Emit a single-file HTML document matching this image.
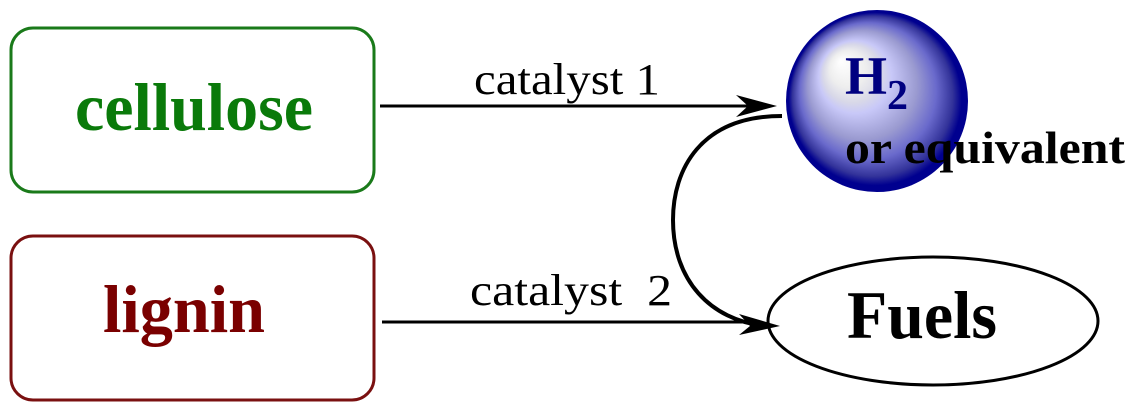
<!DOCTYPE html>
<html><head><style>body{margin:0;background:#fff}</style></head><body>
<svg width="1135" height="414" xmlns="http://www.w3.org/2000/svg">
<defs>
<radialGradient id="g" cx="0.5" cy="0.5" r="0.5" fx="0.3" fy="0.28">
<stop offset="0" stop-color="#fff"/><stop offset="0.2" stop-color="#eeeeee"/><stop offset="0.32" stop-color="#d8d8e8"/><stop offset="0.4" stop-color="#c8c8f8"/><stop offset="0.6" stop-color="#9a9ad0"/><stop offset="0.75" stop-color="#6a6acc"/><stop offset="0.88" stop-color="#33339a"/><stop offset="0.95" stop-color="#00008f"/>
</radialGradient>
</defs>
<rect x="11" y="28" width="363" height="164" rx="22" fill="none" stroke="#1a7a1a" stroke-width="3"/>
<text x="75" y="130" textLength="238" lengthAdjust="spacingAndGlyphs" font-family="Liberation Serif" font-weight="bold" font-size="68" fill="#0a7a0a">cellulose</text>
<rect x="11" y="236" width="363" height="164" rx="22" fill="none" stroke="#7a1010" stroke-width="3"/>
<text x="103" y="332" textLength="162" lengthAdjust="spacingAndGlyphs" font-family="Liberation Serif" font-weight="bold" font-size="68" fill="#7a0000">lignin</text>
<line x1="380" y1="106" x2="760" y2="106" stroke="#000" stroke-width="3"/>
<path d="M777 106 L736 95 L748 106 L736 117Z"/>
<text x="474" y="94" textLength="186" lengthAdjust="spacingAndGlyphs" font-family="Liberation Serif" font-size="44">catalyst 1</text>
<line x1="382" y1="322" x2="760" y2="322" stroke="#000" stroke-width="3"/>
<text x="470" y="305" textLength="202" lengthAdjust="spacingAndGlyphs" font-family="Liberation Serif" font-size="44">catalyst&#160; 2</text>
<path d="M782 116 C700 116 673 170 673 220 C673 280 710 320 765 326" fill="none" stroke="#000" stroke-width="4"/>
<path d="M780 326 L739 314 L750 326 L739 335Z"/>
<circle cx="877" cy="101" r="91" fill="url(#g)"/>
<text x="845" y="94" font-family="Liberation Serif" font-weight="bold" font-size="54" fill="#000080">H<tspan font-size="42" dy="15">2</tspan></text>
<text x="845" y="163" textLength="280" lengthAdjust="spacingAndGlyphs" font-family="Liberation Serif" font-weight="bold" font-size="46">or equivalent</text>
<ellipse cx="933" cy="321" rx="165" ry="64" fill="none" stroke="#000" stroke-width="3"/>
<text x="847" y="338" textLength="150" lengthAdjust="spacingAndGlyphs" font-family="Liberation Serif" font-weight="bold" font-size="68">Fuels</text>
</svg>
</body></html>
